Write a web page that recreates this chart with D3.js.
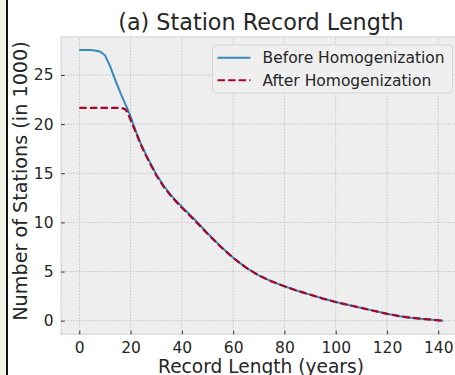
<!DOCTYPE html>
<html>
<head>
<meta charset="utf-8">
<script src="https://cdn.jsdelivr.net/npm/d3@7"></script>
<style>
  body { margin: 0; background: #fff; }
  svg { display: block; }
  text { font-family: "DejaVu Sans", sans-serif; fill: #262626; }
</style>
</head>
<body>
<div id="chart"></div>
<script>
// record length (years) and number of stations (in 1000)
let years = [0, 2, 4, 6, 8, 10, 12, 14, 16, 17, 18, 19, 20, 21, 22, 24, 26, 28, 30, 33, 36, 40, 45, 50, 55, 60, 65, 70, 75, 80, 85, 90, 95, 100, 105, 110, 115, 120, 125, 130, 135, 140, 142];
let before = [27.55, 27.55, 27.55, 27.5, 27.4, 27.0, 25.9, 24.5, 23.2, 22.6, 22.0, 21.4, 20.8, 20.05, 19.3, 18.0, 16.9, 15.9, 14.9, 13.7, 12.7, 11.6, 10.3, 8.9, 7.6, 6.4, 5.4, 4.6, 4.0, 3.5, 3.05, 2.65, 2.25, 1.9, 1.6, 1.3, 1.0, 0.7, 0.45, 0.28, 0.15, 0.04, 0.0];
let after = [21.65, 21.65, 21.65, 21.65, 21.65, 21.65, 21.65, 21.65, 21.65, 21.6, 21.5, 21.1, 20.4, 19.8, 19.2, 17.9, 16.8, 15.8, 14.8, 13.6, 12.6, 11.5, 10.2, 8.85, 7.55, 6.4, 5.4, 4.6, 4.0, 3.5, 3.05, 2.65, 2.25, 1.9, 1.6, 1.3, 1.0, 0.7, 0.45, 0.28, 0.15, 0.04, 0.0];
let xTicks = [0, 20, 40, 60, 80, 100, 120, 140];
let yTicks = [0, 5, 10, 15, 20, 25];
let seriesNames = ["Before Homogenization", "After Homogenization"];

let width = 455;
let height = 375;

let svg = d3.select("#chart").append("svg")
  .attr("width", width)
  .attr("height", height);

// left page border
svg.append("rect").attr("x", 0).attr("y", 0).attr("width", 6).attr("height", height).attr("fill", "#f3f4e8");
svg.append("rect").attr("x", 6).attr("y", 0).attr("width", 2).attr("height", height).attr("fill", "#111");

let x = d3.scaleLinear().domain([-7.1, 149.1]).range([61.1, 461.6]);
let y = d3.scaleLinear().domain([-1.375, 28.875]).range([334.2, 36.9]);

// plot background
svg.append("rect")
  .attr("x", x.range()[0]).attr("y", y.range()[1])
  .attr("width", x.range()[1] - x.range()[0])
  .attr("height", y.range()[0] - y.range()[1])
  .attr("fill", "#eeeeee")
  .attr("stroke", "#cfcfcf")
  .attr("stroke-width", 1);

// grid
let grid = svg.append("g").attr("stroke", "#c4c4c4").attr("stroke-width", 1).attr("stroke-dasharray", "1.5,1.5");
grid.selectAll(".gx").data(xTicks).enter().append("line")
  .attr("x1", d => x(d)).attr("x2", d => x(d))
  .attr("y1", y.range()[0]).attr("y2", y.range()[1]);
grid.selectAll(".gy").data(yTicks).enter().append("line")
  .attr("y1", d => y(d)).attr("y2", d => y(d))
  .attr("x1", x.range()[0]).attr("x2", x.range()[1]);

// axes: ticks point inward
let xAxis = svg.append("g")
  .attr("transform", "translate(0," + y.range()[0] + ")")
  .call(d3.axisTop(x).tickValues(xTicks).tickSize(3.5).tickFormat(d3.format("d")));
xAxis.select(".domain").remove();
xAxis.selectAll("line").attr("stroke", "#333");
xAxis.selectAll("text")
  .attr("y", 18.8).attr("dy", 0)
  .style("font-size", "15.5px").style("font-family", "DejaVu Sans").attr("fill", "#262626");

let yAxis = svg.append("g")
  .attr("transform", "translate(" + x.range()[0] + ",0)")
  .call(d3.axisRight(y).tickValues(yTicks).tickSize(3.5).tickFormat(d3.format("d")));
yAxis.select(".domain").remove();
yAxis.selectAll("line").attr("stroke", "#333");
yAxis.selectAll("text")
  .attr("x", -7.5).attr("text-anchor", "end")
  .style("font-size", "15.5px").style("font-family", "DejaVu Sans").attr("fill", "#262626");

// lines
let line = d3.line().x((d, i) => x(years[i])).y(d => y(d));

svg.append("path")
  .datum(before)
  .attr("d", line)
  .attr("fill", "none")
  .attr("stroke", "#348ABD")
  .attr("stroke-width", 2);

svg.append("path")
  .datum(after)
  .attr("d", line)
  .attr("fill", "none")
  .attr("stroke", "#A60628")
  .attr("stroke-width", 2.2)
  .attr("stroke-dasharray", "7.4,3.2");

// title and labels
svg.append("text")
  .attr("x", 261).attr("y", 29.5)
  .attr("text-anchor", "middle")
  .style("font-size", "22.3px")
  .text("(a) Station Record Length");

svg.append("text")
  .attr("x", 261).attr("y", 373)
  .attr("text-anchor", "middle")
  .style("font-size", "18.6px")
  .text("Record Length (years)");

svg.append("text")
  .attr("transform", "translate(26.5,181) rotate(-90)")
  .attr("text-anchor", "middle")
  .style("font-size", "19.2px")
  .text("Number of Stations (in 1000)");

// legend
let legend = svg.append("g").attr("transform", "translate(212.5,45)");
legend.append("rect")
  .attr("width", 240).attr("height", 48)
  .attr("rx", 3)
  .attr("fill", "#efefef")
  .attr("stroke", "#d6d6d6");

let entries = legend.selectAll(".entry").data(seriesNames).enter().append("g")
  .attr("transform", (d, i) => "translate(0," + (12.7 + i * 22.5) + ")");
entries.append("line")
  .attr("x1", 5).attr("x2", 38)
  .attr("stroke", (d, i) => i == 0 ? "#348ABD" : "#A60628")
  .attr("stroke-width", 2)
  .attr("stroke-dasharray", (d, i) => i == 0 ? null : "7.4,3.2");
entries.append("text")
  .attr("x", 50).attr("dy", "0.36em")
  .style("font-size", "15.5px")
  .text(d => d);
</script>
</body>
</html>
